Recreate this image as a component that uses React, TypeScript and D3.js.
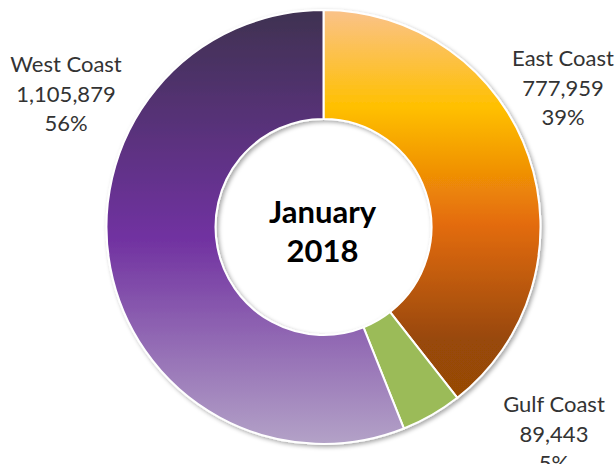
import React from "react";
import * as d3 from "d3";

const categories = ["East Coast", "Gulf Coast", "West Coast"];
const values = [777959, 89443, 1105879];
const percentLabels = ["39%", "5%", "56%"];
const centerTitle = ["January", "2018"];

const W = 616;
const H = 464;
const cx = 323.5;
const cy = 227;
const outerR = 217;
const innerR = 108;

const gradients: Record<string, { offset: number; color: string }[]> = {
  "East Coast": [
    { offset: 0, color: "#FAC28A" },
    { offset: 0.25, color: "#FFC000" },
    { offset: 0.55, color: "#E46C0A" },
    { offset: 0.85, color: "#984807" },
    { offset: 1, color: "#974806" },
  ],
  "West Coast": [
    { offset: 0, color: "#3F3151" },
    { offset: 0.52, color: "#7030A0" },
    { offset: 1, color: "#B3A2C7" },
  ],
};
const solid: Record<string, string> = { "Gulf Coast": "#9BBB59" };

const labelPos: Record<string, { x: number; y: number }> = {
  "West Coast": { x: 66, y: 72 },
  "East Coast": { x: 563, y: 66 },
  "Gulf Coast": { x: 554, y: 412 },
};

export default function App() {
  const pie = d3
    .pie<number>()
    .sort(null)
    .value((d) => d);
  const arcs = pie(values);
  const arc = d3.arc<d3.PieArcDatum<number>>().innerRadius(innerR).outerRadius(outerR);
  const fmt = d3.format(",");
  const font = "Lato, 'Open Sans', sans-serif";

  return (
    <svg width={W} height={H} style={{ position: "absolute", left: 0, top: 0 }}>
      <defs>
        {categories.map((c, i) =>
          gradients[c] ? (
            <linearGradient key={c} id={`g${i}`} x1="0" y1="0" x2="0" y2="1">
              {gradients[c].map((s, j) => (
                <stop key={j} offset={s.offset} stopColor={s.color} />
              ))}
            </linearGradient>
          ) : null
        )}
        <filter id="shadow" x="-20%" y="-20%" width="140%" height="140%">
          <feDropShadow dx="2" dy="2" stdDeviation="2" floodColor="#000" floodOpacity="0.35" />
        </filter>
      </defs>
      <rect width={W} height={H} fill="#fff" />
      <g transform={`translate(${cx},${cy})`} filter="url(#shadow)">
        {arcs.map((a, i) => (
          <path
            key={categories[i]}
            d={arc(a) || ""}
            fill={gradients[categories[i]] ? `url(#g${i})` : solid[categories[i]]}
            stroke="#fff"
            strokeWidth={2}
          />
        ))}
      </g>
      <g fontFamily={font} fontSize={22} fill="#333333" textAnchor="middle">
        {categories.map((c, i) => {
          const p = labelPos[c];
          return (
            <text key={c} x={p.x} y={p.y}>
              <tspan x={p.x} dy={0}>{c}</tspan>
              <tspan x={p.x} dy={29.5}>{fmt(values[i])}</tspan>
              <tspan x={p.x} dy={29.5}>{percentLabels[i]}</tspan>
            </text>
          );
        })}
      </g>
      <g fontFamily={font} fontSize={31} fontWeight="bold" fill="#000" textAnchor="middle">
        <text x={cx - 1} y={223}>{centerTitle[0]}</text>
        <text x={cx - 1} y={262}>{centerTitle[1]}</text>
      </g>
    </svg>
  );
}
